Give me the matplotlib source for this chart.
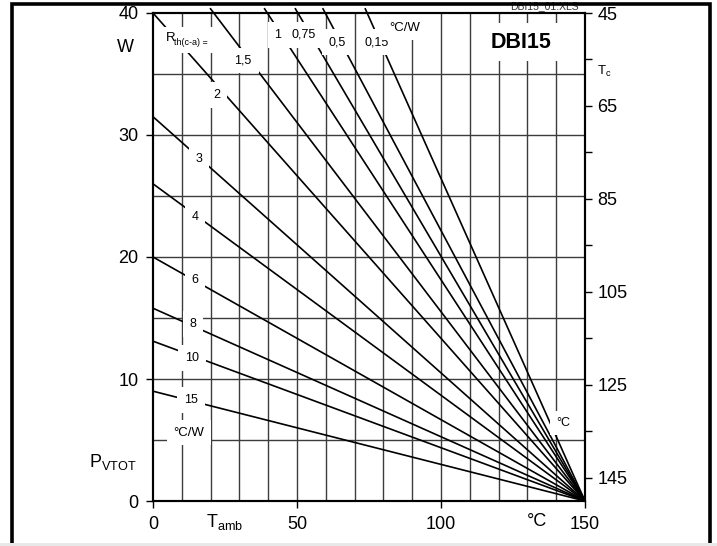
import numpy as np
import matplotlib.pyplot as plt
from matplotlib.patches import Rectangle

plt.rcParams['font.family'] = ['Liberation Sans', 'DejaVu Sans']
plt.rcParams['mathtext.fontset'] = 'custom'
plt.rcParams['mathtext.rm'] = 'Liberation Sans'
plt.rcParams['mathtext.it'] = 'Liberation Sans'

# derating lines: R_th(c-a) label, upper-left start point, all end at 150 C / 0 W
rth_labels = ['15', '10', '8', '6', '4', '3', '2', '1,5', '1', '0,75', '0,5', '0,15']
t_start = [0, 0, 0, 0, 0, 0, 0, 19.8, 38.6, 49.3, 58.9, 73.6]
p_start = [9.0, 13.1, 15.8, 20.0, 26.0, 31.5, 40.0, 40.4, 40.4, 40.4, 40.4, 40.4]
t_end = 150
p_end = 0

# where each label sits on its line (data coords)
label_t = [13.2, 13.5, 13.9, 14.6, 14.6, 16.0, 22.2, 31.3, 43.4, 52.4, 63.9, 77.8]
label_p = [8.3, 11.7, 14.5, 18.1, 23.3, 28.0, 33.3, 36.1, 38.2, 38.2, 37.6, 37.6]

x_ticks = [0, 50, 100, 150]
y_ticks = [0, 10, 20, 30, 40]
tc_ticks = [45, 65, 85, 105, 125, 145]
tc_minor = [55, 75, 95, 115, 135]

W, H = 717, 546


def fx(x):
    return x / W


def fy(y):
    return 1 - y / H


fig = plt.figure(figsize=(W / 100, H / 100), dpi=100)
ax = fig.add_axes([fx(153), fy(501), 432 / W, 488 / H])
ax.set_xlim(0, 150)
ax.set_ylim(0, 40)

grid_col = '#3c3c3c'
for t in range(10, 150, 10):
    ax.axvline(t, color=grid_col, lw=1.0, zorder=1)
for p in range(5, 40, 5):
    ax.axhline(p, color=grid_col, lw=1.0, zorder=1)

for t0, p0 in zip(t_start, p_start):
    ax.plot([t0, t_end], [p0, p_end], color='black', lw=1.2, zorder=2,
            clip_on=False, solid_capstyle='butt')

box = dict(facecolor='white', edgecolor='none', boxstyle='square,pad=0.55')
for lab, t, p in zip(rth_labels, label_t, label_p):
    ax.text(t, p, lab, fontsize=9, ha='center', va='center', bbox=box, zorder=3)

# R_th(c-a) = header box
ax.add_patch(Rectangle((2.4, 36.7), 19.5, 2.15, facecolor='white', edgecolor='none', zorder=3))
fig.text(fx(166), fy(38), 'R', fontsize=9.5, ha='left', va='center', zorder=5)
fig.text(fx(174), fy(42.5), 'th(c-a) =', fontsize=6.5, ha='left', va='center', zorder=5)

# upper unit box overlaps the end of the 0,15 label
ax.add_patch(Rectangle((78.8, 37.8), 15.6, 2.2, facecolor='white', edgecolor='none', zorder=3.2))
ax.text(87.5, 38.8, '°C/W', fontsize=9.5, ha='center', va='center', zorder=3.4)

ax.text(12.5, 5.6, '°C/W', fontsize=9.5, ha='center', va='center',
        bbox=dict(facecolor='white', edgecolor='none', boxstyle='square,pad=0.5'), zorder=3)
ax.text(142.4, 6.4, '°C', fontsize=9, ha='center', va='center',
        bbox=dict(facecolor='white', edgecolor='none', boxstyle='square,pad=0.5'), zorder=3)
ax.text(127.8, 37.6, 'DBI15', fontsize=15.5, fontweight='bold', ha='center', va='center',
        bbox=dict(facecolor='white', edgecolor='none', boxstyle='square,pad=0.4'), zorder=3)

ax.set_xticks(x_ticks)
ax.set_yticks(y_ticks)
ax.tick_params(direction='out', length=5, width=1, labelsize=13, pad=6)
ax.tick_params(axis='y', pad=5.5)
for s in ax.spines.values():
    s.set_linewidth(1.5)
    s.set_zorder(4)

ax2 = ax.twinx()
ax2.set_ylim(150, 45)
ax2.set_yticks(tc_ticks)
ax2.set_yticks(tc_minor, minor=True)
ax2.tick_params(axis='y', which='both', direction='out', length=5, width=1, labelsize=13, pad=4)
for s in ax2.spines.values():
    s.set_linewidth(1.5)

# axis captions
fig.text(fx(125), fy(47), 'W', fontsize=13, ha='center', va='center')
fig.text(fx(113), fy(462), r'P$_{\mathrm{VTOT}}$', fontsize=13, ha='center', va='center')
fig.text(fx(225), fy(522), r'T$_{\mathrm{amb}}$', fontsize=13, ha='center', va='center')
fig.text(fx(537), fy(522), '°C', fontsize=13, ha='center', va='center')
fig.text(fx(604), fy(71), r'T$_{\mathrm{c}}$', fontsize=9.5, ha='center', va='center')
fig.text(fx(544), fy(9), 'DBI15_01.XLS', fontsize=7.5, color='#333333',
         ha='center', va='baseline', zorder=1)

# outer frame and grey strip at the bottom
fig.patches.append(Rectangle((fx(11.5), -0.05), fx(710) - fx(11.5), fy(4.5) + 0.05,
                             transform=fig.transFigure, facecolor='none',
                             edgecolor='black', lw=2.6, zorder=10))
fig.patches.append(Rectangle((0, 0), 1, 3.5 / H, transform=fig.transFigure,
                             facecolor='#e8e8e8', edgecolor='none', zorder=11))

fig.savefig('out.png', dpi=100)
